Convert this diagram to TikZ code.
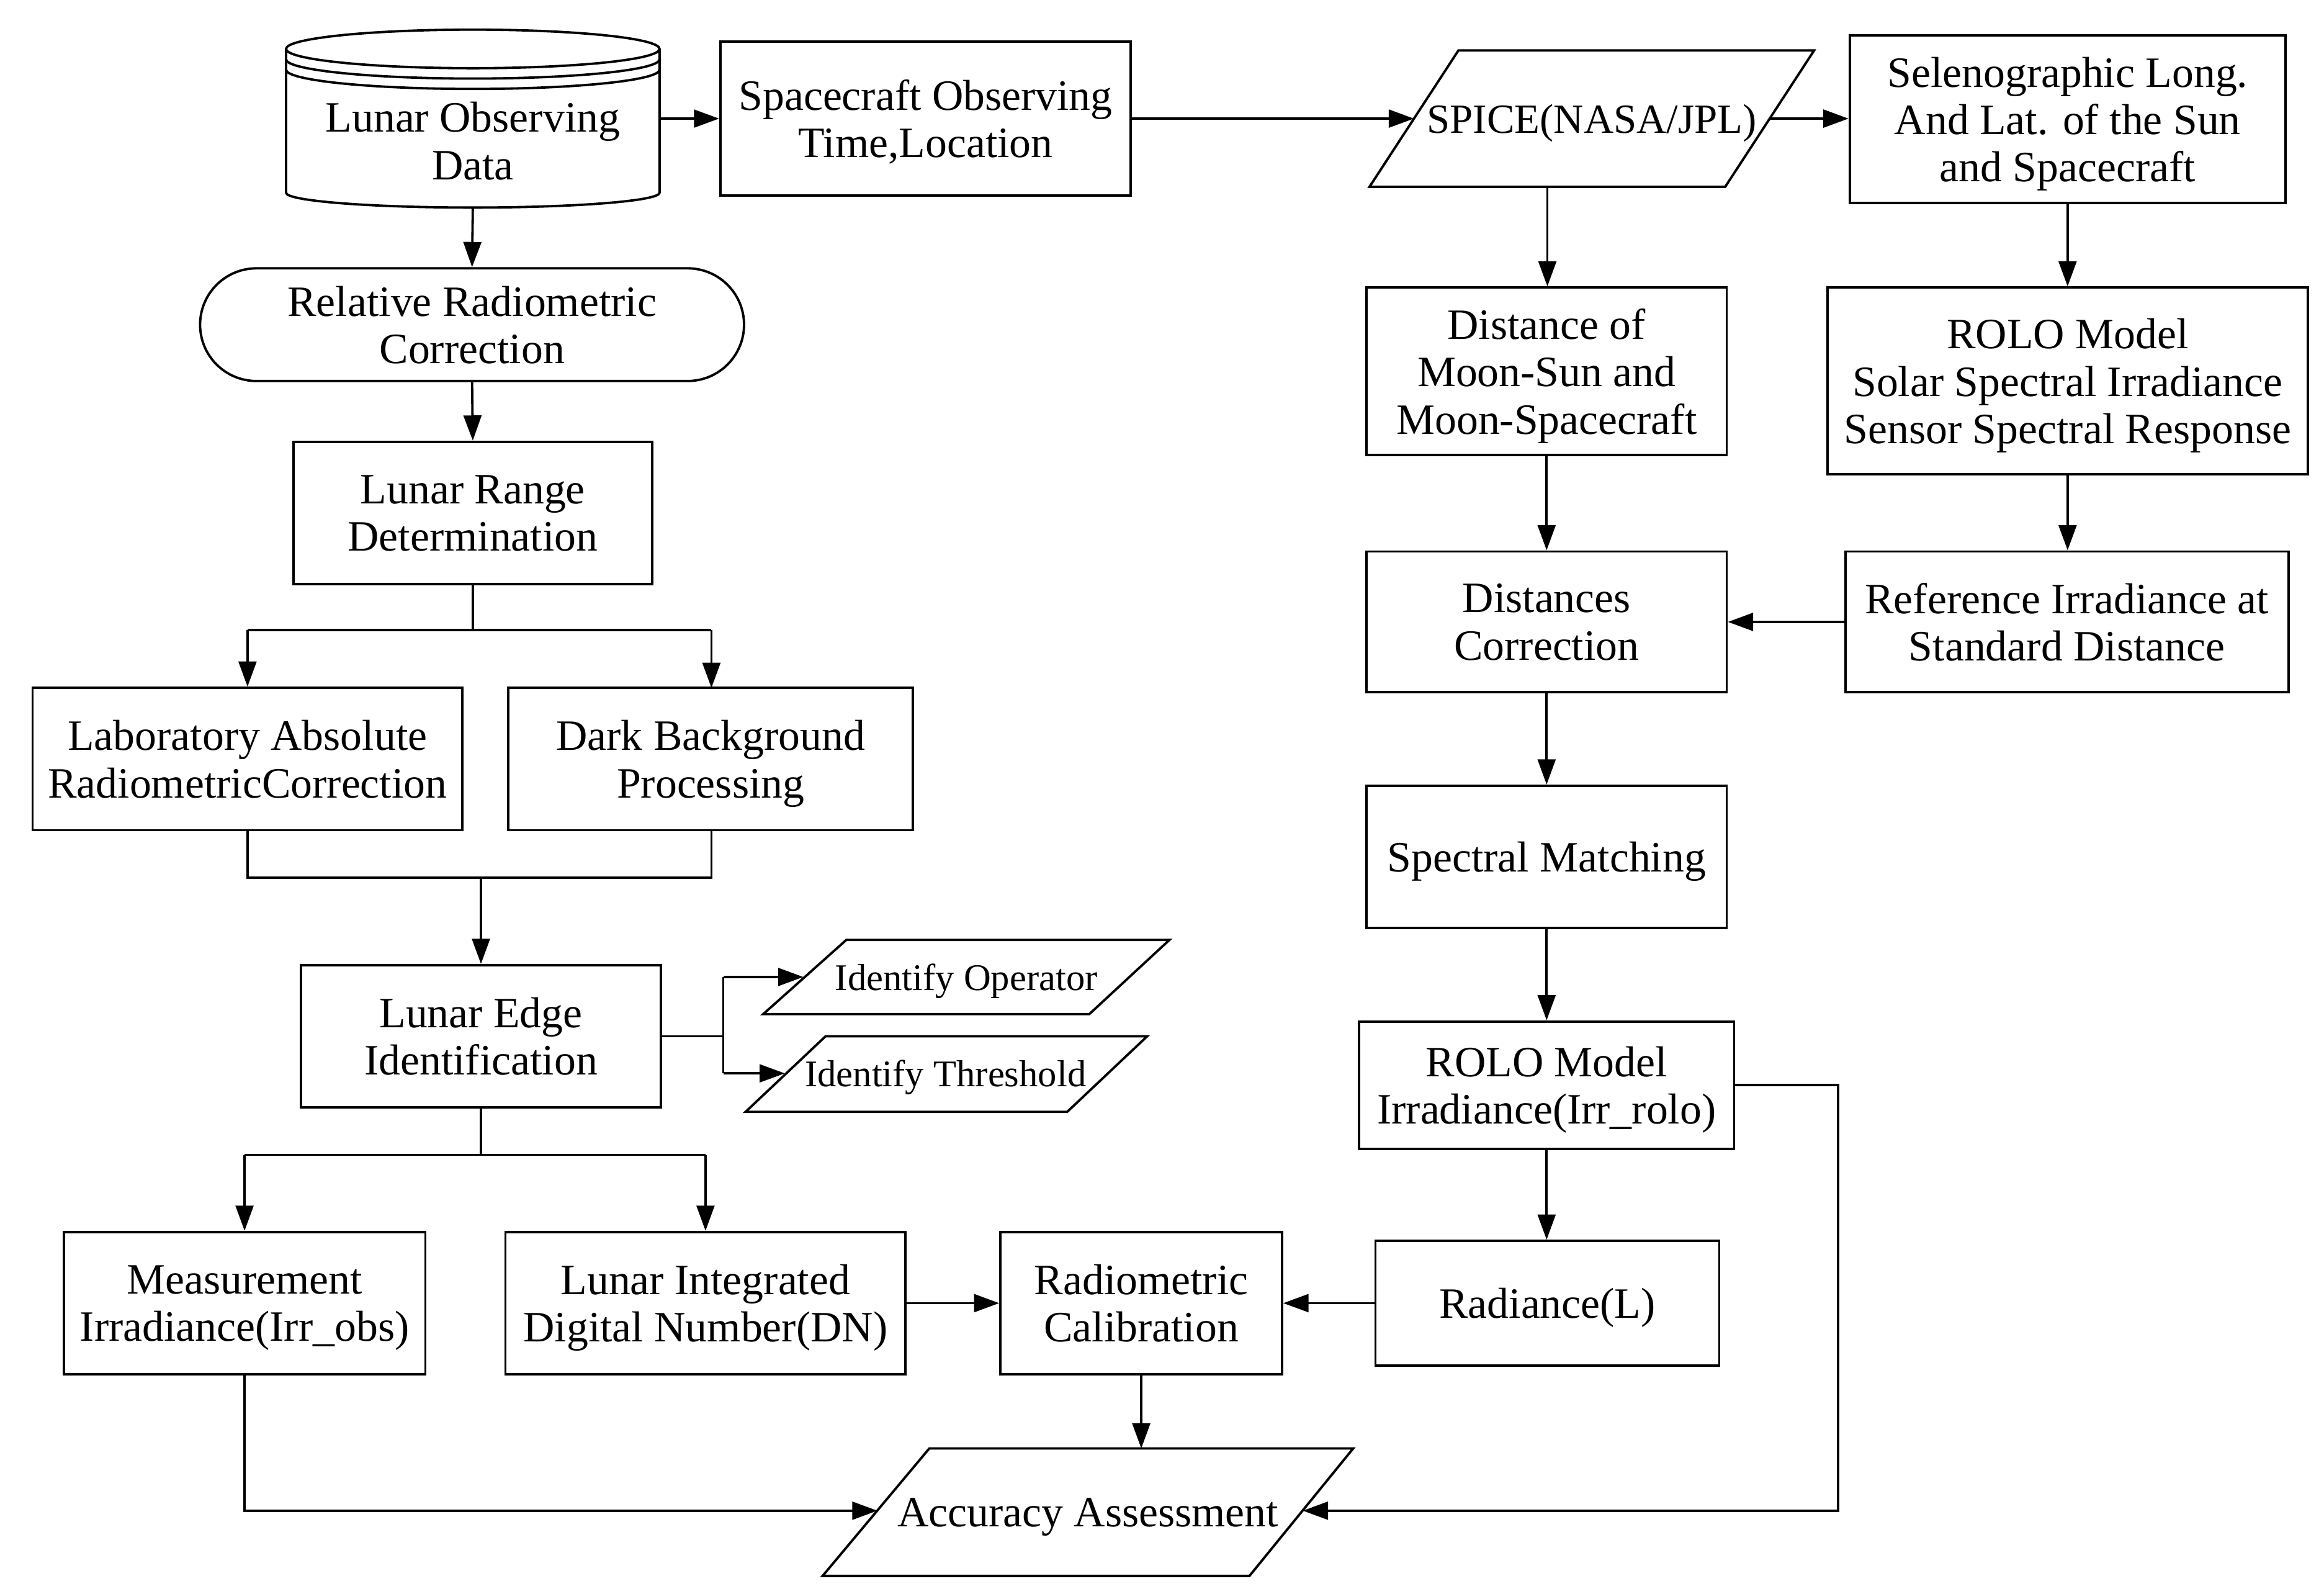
\documentclass[tikz,border=0pt]{standalone}
\usepackage{fontspec}
\setmainfont{Liberation Serif}
\usetikzlibrary{arrows.meta,shapes.misc}
\begin{document}
\begin{tikzpicture}[x=0.5pt,y=-0.5pt,line width=0.8pt,
  every node/.style={font=\fontsize{14.6pt}{16pt}\selectfont,align=center,inner sep=0pt,text depth=0pt},
  box/.style={draw,rectangle},
  stadium/.style={draw,rounded rectangle},
  small/.style={font=\fontsize{12.7pt}{14pt}\selectfont},
  arr/.style={-{Triangle[length=8.5pt,width=6pt]}}]
\useasboundingbox (0,0) rectangle (1568,1075);

% ---------- cylinder: Lunar Observing Data ----------
\draw (319,33) ellipse [x radius=63pt,y radius=6.5pt];
\draw (193,40) arc[start angle=180,end angle=360,x radius=63pt,y radius=6.5pt];
\draw (193,47) arc[start angle=180,end angle=360,x radius=63pt,y radius=6.5pt];
\draw (193,33) -- (193,130) arc[start angle=180,end angle=360,x radius=63pt,y radius=5pt] -- (445,33);
\node (cyl) at (319,95) {Lunar Observing\\Data};
\coordinate (cylE) at (445,80);
\coordinate (cylS) at (319,140);

% ---------- boxes ----------
\node[box,minimum width=138.5pt,minimum height=52pt] (space) at (624.5,80) {Spacecraft Observing\\Time,Location};
\node[box,minimum width=147pt,minimum height=56.5pt] (seleno) at (1395,80.5) {Selenographic Long.\\And Lat. of the Sun\\and Spacecraft};
\node[stadium,minimum width=183.5pt,minimum height=38pt] (rel) at (318.5,219) {Relative Radiometric\\Correction};
\node[box,minimum width=121pt,minimum height=48pt] (range) at (319,346) {Lunar Range\\Determination};
\node[box,minimum width=145pt,minimum height=48pt] (lab) at (167,512) {Laboratory Absolute\\RadiometricCorrection};
\node[box,minimum width=136.5pt,minimum height=48pt] (dark) at (479.5,512) {Dark Background\\Processing};
\node[box,minimum width=121.5pt,minimum height=48pt] (edge) at (324.5,699) {Lunar Edge\\Identification};
\node[box,minimum width=122pt,minimum height=48pt] (meas) at (165,879) {Measurement\\Irradiance(Irr\_obs)};
\node[box,minimum width=135pt,minimum height=48pt] (lid) at (476,879) {Lunar Integrated\\Digital Number(DN)};
\node[box,minimum width=95pt,minimum height=48pt] (radcal) at (770,879) {Radiometric\\Calibration};
\node[box,minimum width=116pt,minimum height=42pt] (radiance) at (1044,879) {Radiance(L)};
\node[box,minimum width=121.5pt,minimum height=56.5pt] (dist) at (1043.5,250.5) {Distance of\\Moon-Sun and\\Moon-Spacecraft};
\node[box,minimum width=162pt,minimum height=63pt] (rolo) at (1395,257) {ROLO Model\\Solar Spectral Irradiance\\Sensor Spectral Response};
\node[box,minimum width=121.5pt,minimum height=47.5pt] (distcorr) at (1043.5,419.5) {Distances\\Correction};
\node[box,minimum width=149.5pt,minimum height=47.5pt] (refirr) at (1394.5,419.5) {Reference Irradiance at\\Standard Distance};
\node[box,minimum width=121.5pt,minimum height=48pt] (spectral) at (1043.5,578) {Spectral Matching};
\node[box,minimum width=126.5pt,minimum height=43pt] (roloirr) at (1043.5,732) {ROLO Model\\Irradiance(Irr\_rolo)};

% ---------- parallelograms ----------
\draw (984,34) -- (1224,34) -- (1164,126) -- (924,126) -- cycle;
\node[font=\fontsize{14pt}{16pt}\selectfont] (spice) at (1074,80) {SPICE(NASA/JPL)};
\coordinate (spiceW) at (954,80);
\coordinate (spiceE) at (1194,80);
\coordinate (spiceS) at (1044,126);

\draw (571,634) -- (789,634) -- (735,684) -- (515,684) -- cycle;
\node[small] (oper) at (652,659) {Identify Operator};
\coordinate (operW) at (542,659);

\draw (557,699) -- (774,699) -- (720,750) -- (503,750) -- cycle;
\node[small] (thres) at (638,724) {Identify Threshold};
\coordinate (thresW) at (529.5,724);

\draw (627,977) -- (913,977) -- (843,1063) -- (555,1063) -- cycle;
\node (acc) at (734,1020) {Accuracy Assessment};
\coordinate (accW) at (592,1019);
\coordinate (accE) at (879,1019);
\coordinate (accN) at (770,977);

% ---------- connectors ----------
\draw[arr] (cylE) -- (space.west);
\draw[arr] (space.east) -- (spiceW);
\draw[arr] (spiceE) -- (seleno.west |- spiceE);
\draw[arr] (cylS) -- (rel.north);
\draw[arr] (rel.south) -- (range.north);
\draw (range.south) -- (319,425);
\draw (167,425) -- (480,425);
\draw[arr] (167,425) -- (lab.north);
\draw[arr] (480,425) -- (480,464);
\draw (lab.south) -- (167,592) -- (480,592) -- (480,560);
\draw[arr] (324.5,592) -- (edge.north);
\draw (edge.east) -- (488,699);
\draw (488,659) -- (488,724);
\draw[arr] (488,659) -- (operW);
\draw[arr] (488,724) -- (thresW);
\draw (edge.south) -- (324.5,779);
\draw (165,779) -- (476,779);
\draw[arr] (165,779) -- (meas.north);
\draw[arr] (476,779) -- (lid.north);
\draw[arr] (lid.east) -- (radcal.west);
\draw[arr] (radiance.west) -- (radcal.east);
\draw[arr] (radcal.south) -- (accN);
\draw[arr] (meas.south) -- (165,1019) -- (accW);
\draw[arr] (roloirr.east) -- (1240,732) -- (1240,1019) -- (accE);
\draw[arr] (spiceS) -- (spiceS |- dist.north);
\draw[arr] (dist.south) -- (distcorr.north);
\draw[arr] (distcorr.south) -- (spectral.north);
\draw[arr] (spectral.south) -- (roloirr.north);
\draw[arr] (roloirr.south) -- (roloirr.south |- radiance.north);
\draw[arr] (seleno.south) -- (rolo.north);
\draw[arr] (rolo.south) -- (rolo.south |- refirr.north);
\draw[arr] (refirr.west) -- (distcorr.east);
\end{tikzpicture}
\end{document}
